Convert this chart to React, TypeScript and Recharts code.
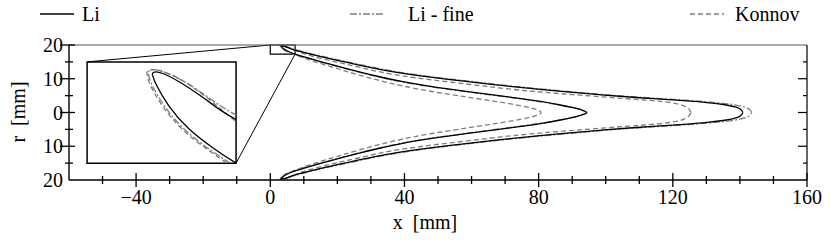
import { LineChart, Line, XAxis, YAxis, ReferenceArea, ReferenceLine } from "recharts";

const FONT = "'Liberation Serif', 'Times New Roman', serif";

// upper half of each contour: outer tip -> along outer edge -> top tip -> inner edge -> inner tip
// values are [x mm, r mm]
const liUpper = [
  [140.9, 0], [140.4, 0.9], [139.2, 1.6], [136, 2.3], [130, 3.0], [125, 3.4], [116, 4.0],
  [110, 4.35], [98, 5.25], [86.3, 6.3], [77.6, 7.1], [68, 8.1], [58.5, 9.2], [48, 10.4],
  [38.7, 11.7], [32, 12.9], [26.7, 14.0], [22, 15.0], [18.3, 15.85], [13, 17.05], [9, 18.05],
  [7.31, 18.48], [6.65, 18.7], [5.66, 19.1], [4.66, 19.46], [3.66, 19.74], [3.3, 19.74],
  [3.22, 19.68], [3.3, 19.6], [3.36, 19.46], [4.0, 18.84], [4.99, 18.21], [6.32, 17.68],
  [7.31, 17.32], [10, 16.5], [13.5, 15.5], [18.3, 14.2], [22, 13.2], [26.7, 12.0], [32, 10.7],
  [38.7, 9.2], [48, 7.65], [58.5, 6.25], [68, 5.0], [75, 4.1], [80.5, 3.3], [86.3, 2.3],
  [91, 1.3], [93.6, 0.55], [94.6, 0],
];

const liFineUpper = [
  [143.5, 0], [143.0, 0.9], [141.8, 1.6], [138.5, 2.35], [132, 3.05], [125, 3.55], [116, 4.15],
  [110, 4.5], [98, 5.4], [86.3, 6.45], [77.6, 7.25], [68, 8.25], [58.5, 9.35], [48, 10.55],
  [38.7, 11.85], [32, 13.05], [26.7, 14.2], [22, 15.2], [18.3, 16.0], [13, 17.2], [9, 18.2],
  [7.31, 18.6], [6.65, 18.82], [5.66, 19.2], [4.66, 19.55], [3.6, 19.8], [3.1, 19.8],
  [3.02, 19.72], [3.08, 19.62], [3.14, 19.46], [3.8, 18.82], [4.8, 18.18], [6.12, 17.65],
  [7.1, 17.3], [9.8, 16.45], [13.3, 15.45], [18.3, 14.1], [22, 13.1], [26.7, 11.9], [32, 10.6],
  [38.7, 9.1], [48, 7.55], [58.5, 6.15], [68, 4.9], [75, 4.0], [80.5, 3.2], [86.3, 2.25],
  [91, 1.28], [93.7, 0.55], [94.8, 0],
];

const konnovUpper = [
  [125.4, 0], [124.9, 1.1], [123.5, 2.0], [121, 2.75], [116, 3.4], [110, 3.8], [98, 4.7],
  [86.3, 5.6], [77.6, 6.3], [68, 7.3], [58.5, 8.45], [48, 9.65], [38.7, 10.9], [32, 12.1],
  [26.7, 13.4], [22, 14.4], [18.3, 15.25], [13, 16.55], [9, 17.7], [7.31, 18.45], [6.65, 18.75],
  [5.66, 19.18], [4.66, 19.55], [3.6, 19.8], [3.05, 19.8], [2.95, 19.72], [3.0, 19.62],
  [3.05, 19.46], [3.7, 18.82], [4.7, 18.18], [6.0, 17.65], [7.0, 17.3], [9.5, 16.3], [13, 15.1],
  [18.3, 13.5], [22, 12.4], [26.7, 11.0], [32, 9.6], [38.7, 7.95], [48, 6.2], [58.5, 4.6],
  [65, 3.6], [70, 2.85], [76.5, 1.7], [79.6, 0.9], [81.3, 0],
];

const xTicks = [-60, -50, -40, -30, -20, -10, 0, 10, 20, 30, 40, 50, 60, 70, 80, 90, 100, 110, 120, 130, 140, 150, 160];
const xLabelTicks = [-40, 0, 40, 80, 120, 160];
const rTicks = [-20, -15, -10, -5, 0, 5, 10, 15, 20];
const rLabelTicks = [-20, -10, 0, 10, 20];

const X_DOMAIN = [-60, 160];
const R_DOMAIN = [-20, 20];
// zoomed window and where the inset sits (in main-plot units)
const ZOOM = { x1: 0, x2: 7.4, r1: 17.3, r2: 20 };
const INSET = { x1: -54.6, x2: -10.2, r1: -15, r2: 15 };

const PLOT = { left: 69, top: 45, width: 738, height: 135 };

// mirror the upper half to close the contour
function closeContour(upper: number[][]) {
  const top = upper.map(([x, r]) => ({ x, r }));
  const bottom = upper
    .slice(0, -1)
    .reverse()
    .map(([x, r]) => ({ x, r: -r }));
  return [...top, ...bottom];
}

const GRAY = "#7d7d7d";

const series = [
  { name: "Konnov", data: closeContour(konnovUpper), stroke: GRAY, dash: "5 3", width: 1.3 },
  { name: "Li - fine", data: closeContour(liFineUpper), stroke: GRAY, dash: "7 2 2 2", width: 1.3 },
  { name: "Li", data: closeContour(liUpper), stroke: "#000", dash: undefined, width: 1.3 },
];

const fmt = (v: number) => (v < 0 ? "\u2212" + Math.abs(v) : String(v));

const BottomTick = (p: any) => {
  const v = p.payload.value;
  if (v === X_DOMAIN[0]) return <g />;
  const major = xLabelTicks.includes(v);
  const len = major ? 7 : 4;
  return (
    <g>
      <line x1={p.x} x2={p.x} y1={p.y - len} y2={p.y + len} stroke="#000" strokeWidth={1.3} />
      {major && (
        <text x={p.x} y={p.y + 24} textAnchor="middle" fontSize={20} fontFamily={FONT} fill="#000">
          {fmt(v)}
        </text>
      )}
    </g>
  );
};

const TopTick = (p: any) => {
  const v = p.payload.value;
  if (v === X_DOMAIN[0] || v === X_DOMAIN[1]) return <g />;
  const len = xLabelTicks.includes(v) ? 8 : 5;
  return <line x1={p.x} x2={p.x} y1={p.y} y2={p.y + len} stroke="#000" strokeWidth={1.2} />;
};

const LeftTick = (p: any) => {
  const v = p.payload.value;
  const major = rLabelTicks.includes(v);
  const showLine = v !== R_DOMAIN[0];
  return (
    <g>
      {showLine && (
        <line
          x1={p.x - (major ? 9 : 4)}
          x2={p.x + (major ? 6 : 4)}
          y1={p.y}
          y2={p.y}
          stroke="#000"
          strokeWidth={1.3}
        />
      )}
      {major && (
        <text x={p.x - 6} y={p.y + 7} textAnchor="end" fontSize={20} fontFamily={FONT} fill="#000">
          {Math.abs(v)}
        </text>
      )}
    </g>
  );
};

const RightTick = (p: any) => {
  const v = p.payload.value;
  if (v === R_DOMAIN[0] || v === R_DOMAIN[1]) return <g />;
  const len = rLabelTicks.includes(v) ? 9 : 4;
  return <line x1={p.x - len} x2={p.x} y1={p.y} y2={p.y} stroke="#000" strokeWidth={1.2} />;
};

const legendItems = [
  { name: "Li", x: 40, textX: 82, stroke: "#000", dash: undefined },
  { name: "Li - fine", x: 350, textX: 408, stroke: GRAY, dash: "7 2 2 2" },
  { name: "Konnov", x: 690, textX: 735, stroke: GRAY, dash: "5 3" },
];

const toPxX = (x: number) => PLOT.left + ((x - X_DOMAIN[0]) / (X_DOMAIN[1] - X_DOMAIN[0])) * PLOT.width;
const toPxY = (r: number) => PLOT.top + ((R_DOMAIN[1] - r) / (R_DOMAIN[1] - R_DOMAIN[0])) * PLOT.height;

export default function App() {
  const insetLeft = toPxX(INSET.x1);
  const insetTop = toPxY(INSET.r2);
  const insetW = toPxX(INSET.x2) - insetLeft;
  const insetH = toPxY(INSET.r1) - insetTop;

  return (
    <div style={{ position: "absolute", left: 0, top: 0, width: 830, height: 240, background: "#fff" }}>
      <LineChart width={830} height={240} margin={{ top: 44, right: 22, bottom: 30, left: 0 }}>
        <XAxis
          xAxisId="b"
          dataKey="x"
          type="number"
          domain={X_DOMAIN}
          ticks={xTicks}
          interval={0}
          allowDataOverflow
          height={30}
          tickSize={0}
          tickMargin={0}
          tickLine={false}
          tick={(p: any) => <BottomTick {...p} />}
          axisLine={{ stroke: "#000", strokeWidth: 1.4 }}
        />
        <XAxis
          xAxisId="t"
          orientation="top"
          type="number"
          domain={X_DOMAIN}
          ticks={xTicks}
          interval={0}
          allowDataOverflow
          height={1}
          tickSize={0}
          tickMargin={0}
          tickLine={false}
          tick={(p: any) => <TopTick {...p} />}
          axisLine={{ stroke: "#555", strokeWidth: 1.2 }}
        />
        <YAxis
          yAxisId="l"
          type="number"
          domain={R_DOMAIN}
          ticks={rTicks}
          interval={0}
          allowDataOverflow
          width={69}
          tickSize={0}
          tickMargin={0}
          tickLine={false}
          tick={(p: any) => <LeftTick {...p} />}
          axisLine={{ stroke: "#000", strokeWidth: 1.4 }}
        />
        <YAxis
          yAxisId="r"
          orientation="right"
          type="number"
          domain={R_DOMAIN}
          ticks={rTicks}
          interval={0}
          allowDataOverflow
          width={1}
          tickSize={0}
          tickMargin={0}
          tickLine={false}
          tick={(p: any) => <RightTick {...p} />}
          axisLine={{ stroke: "#000", strokeWidth: 1.2 }}
        />
        <ReferenceArea
          xAxisId="b"
          yAxisId="l"
          x1={INSET.x1}
          x2={INSET.x2}
          y1={INSET.r1}
          y2={INSET.r2}
          fill="#fff"
          fillOpacity={1}
          stroke="#000"
          strokeWidth={1.5}
        />
        <ReferenceArea
          xAxisId="b"
          yAxisId="l"
          x1={ZOOM.x1}
          x2={ZOOM.x2}
          y1={ZOOM.r1}
          y2={ZOOM.r2}
          fill="none"
          stroke="#000"
          strokeWidth={1.2}
        />
        <ReferenceLine
          xAxisId="b"
          yAxisId="l"
          segment={[{ x: INSET.x1, y: INSET.r2 }, { x: ZOOM.x1, y: ZOOM.r2 }]}
          stroke="#000"
          strokeWidth={1}
        />
        <ReferenceLine
          xAxisId="b"
          yAxisId="l"
          segment={[{ x: INSET.x2, y: INSET.r1 }, { x: ZOOM.x2, y: ZOOM.r1 }]}
          stroke="#000"
          strokeWidth={1}
        />
        {series.map((s) => (
          <Line
            key={s.name}
            xAxisId="b"
            yAxisId="l"
            data={s.data}
            dataKey="r"
            type="basis"
            dot={false}
            activeDot={false}
            stroke={s.stroke}
            strokeWidth={s.width}
            strokeDasharray={s.dash}
            isAnimationActive={false}
          />
        ))}
      </LineChart>

      {/* inset: zoom on the flame tip near the wall */}
      <div style={{ position: "absolute", left: insetLeft, top: insetTop, width: insetW, height: insetH }}>
        <LineChart width={insetW} height={insetH} margin={{ top: 0, right: 0, bottom: 0, left: 0 }}>
          <XAxis dataKey="x" type="number" domain={[ZOOM.x1, ZOOM.x2]} allowDataOverflow hide />
          <YAxis type="number" domain={[ZOOM.r1, ZOOM.r2]} allowDataOverflow hide />
          {series.map((s) => (
            <Line
              key={s.name}
              data={s.data}
              dataKey="r"
              type="basis"
              dot={false}
              activeDot={false}
              stroke={s.stroke}
              strokeWidth={s.width}
              strokeDasharray={s.dash}
              isAnimationActive={false}
            />
          ))}
        </LineChart>
      </div>

      <svg width={830} height={240} style={{ position: "absolute", left: 0, top: 0, pointerEvents: "none" }}>
        {legendItems.map((it) => (
          <g key={it.name}>
            <line
              x1={it.x}
              x2={it.x + 34}
              y1={14}
              y2={14}
              stroke={it.stroke}
              strokeWidth={1.6}
              strokeDasharray={it.dash}
            />
            <text x={it.textX} y={21} fontSize={20} fontFamily={FONT} fill="#000">
              {it.name}
            </text>
          </g>
        ))}
        <text x={425} y={229} textAnchor="middle" fontSize={20} fontFamily={FONT} fill="#000" xmlSpace="preserve">
          x  [mm]
        </text>
        <text
          x={25}
          y={112}
          textAnchor="middle"
          fontSize={20}
          fontFamily={FONT}
          fill="#000"
          transform="rotate(-90 25 112)"
          xmlSpace="preserve"
        >
          r  [mm]
        </text>
      </svg>
    </div>
  );
}
